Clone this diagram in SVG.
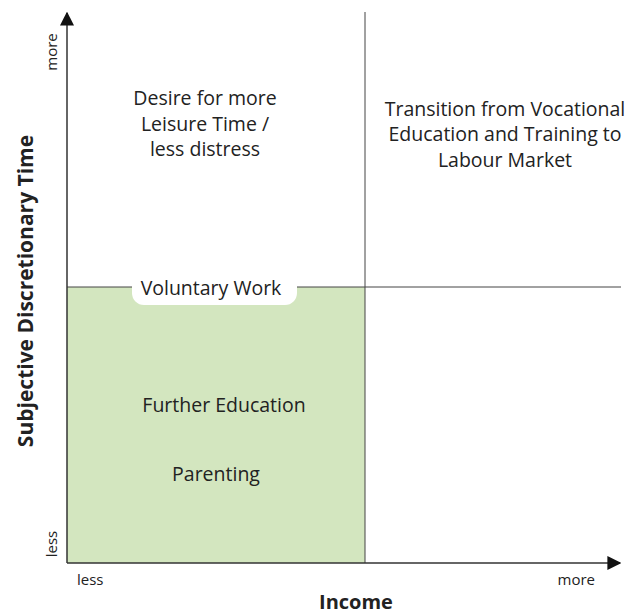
<svg xmlns="http://www.w3.org/2000/svg" width="629" height="614" viewBox="0 0 629 614">
<defs>
<marker id="arr" viewBox="0 0 10 10" refX="9" refY="5" markerWidth="14" markerHeight="14" markerUnits="userSpaceOnUse" orient="auto">
<path d="M0,0 L10,5 L0,10 Z" fill="#111"/>
</marker>
<style>
text{font-family:"Open Sans","Liberation Sans",sans-serif;fill:#222;}
.lbl{font-size:19.5px;text-anchor:middle;}
.sm{font-size:15px;}
.ax{font-weight:bold;text-anchor:middle;}
.grid{stroke:#444;stroke-width:1;fill:none;}
</style>
</defs>
<rect width="629" height="614" fill="#fff"/>
<g id="zone">
<rect x="67" y="287" width="298" height="276" fill="#d3e6bf"/>
</g>
<g id="connectors">
<line class="grid" x1="365" y1="12" x2="365" y2="563"/>
<line class="grid" x1="67" y1="287" x2="621" y2="287"/>
<line x1="67" y1="563" x2="67" y2="13" stroke="#333" stroke-width="1.5" marker-end="url(#arr)"/>
<line x1="67" y1="563" x2="620" y2="563" stroke="#333" stroke-width="1.5" marker-end="url(#arr)"/>
</g>
<g id="voluntary">
<rect x="132" y="271" width="165" height="34" rx="12" fill="#fff"/>
<text class="lbl" x="211" y="295">Voluntary Work</text>
</g>
<g id="desire">
<text class="lbl" x="205" y="105">Desire for more</text>
<text class="lbl" x="205" y="130.5">Leisure Time /</text>
<text class="lbl" x="205" y="156">less distress</text>
</g>
<g id="transition">
<text class="lbl" x="505" y="115.5">Transition from Vocational</text>
<text class="lbl" x="505" y="141">Education and Training to</text>
<text class="lbl" x="505" y="166.5">Labour Market</text>
</g>
<g id="further">
<text class="lbl" x="224" y="412">Further Education</text>
</g>
<g id="parenting">
<text class="lbl" x="216" y="481">Parenting</text>
</g>
<g id="axis-labels">
<text class="sm" x="57" y="52" text-anchor="middle" transform="rotate(-90 57 52)">more</text>
<text class="sm" x="57" y="544" text-anchor="middle" transform="rotate(-90 57 544)">less</text>
<text class="sm" x="77" y="585">less</text>
<text class="sm" x="595" y="585" text-anchor="end">more</text>
<text class="ax" x="356" y="609" font-size="20">Income</text>
<text class="ax" x="33" y="291" font-size="21" transform="rotate(-90 33 291)">Subjective Discretionary Time</text>
</g>
</svg>
